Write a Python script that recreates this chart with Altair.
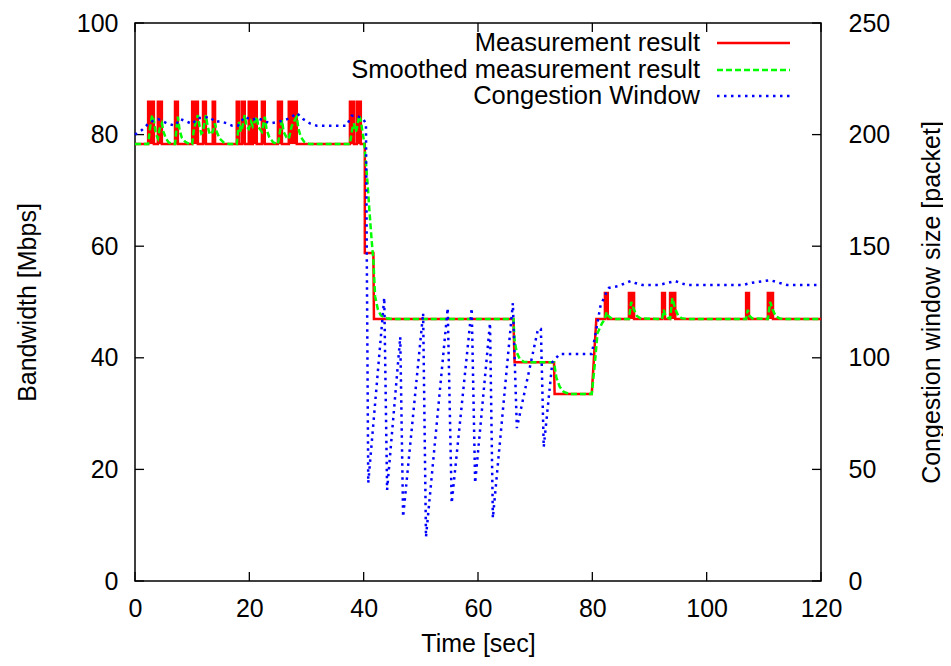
import altair as alt
import pandas as pd

FONT = "Liberation Sans"
W, H = 686, 558

# ---------------- data ----------------
x_ticks = [0, 20, 40, 60, 80, 100, 120]
bw_ticks = [0, 20, 40, 60, 80, 100]
cwnd_ticks = [0, 50, 100, 150, 200, 250]
legend_labels = ["Measurement result", "Smoothed measurement result", "Congestion Window"]

# Measurement result [Mbps]
red_t = [0,
         2.3, 2.3, 3.3, 3.3,
         4.0, 4.0, 4.7, 4.7,
         7.0, 7.0, 7.5, 7.5,
         10.0, 10.0, 11.0, 11.0,
         11.9, 11.9, 12.4, 12.4,
         13.6, 13.6, 14.0, 14.0,
         17.8, 17.8, 18.2, 18.2,
         18.7, 18.7, 19.2, 19.2,
         19.9, 19.9, 20.3, 20.3,
         20.6, 20.6, 21.3, 21.3,
         22.2, 22.2, 22.7, 22.7,
         25.0, 25.0, 25.7, 25.7,
         26.9, 26.9, 28.3, 28.3,
         37.6, 37.6, 38.3, 38.3,
         38.8, 38.8, 39.5, 39.5,
         40.2, 40.2, 41.7, 41.8, 66.2, 66.4, 73.3, 73.4, 79.9, 80.7,
         82.2, 82.2, 82.7, 82.7,
         86.4, 86.4, 87.3, 87.3,
         92.2, 92.2, 92.7, 92.7,
         93.6, 93.6, 94.5, 94.5,
         106.9, 106.9, 107.4, 107.4,
         110.7, 110.7, 111.6, 111.6,
         120]
red_v = [78.3,
         78.3, 85.9, 85.9, 78.3,
         78.3, 85.9, 85.9, 78.3,
         78.3, 85.9, 85.9, 78.3,
         78.3, 85.9, 85.9, 78.3,
         78.3, 85.9, 85.9, 78.3,
         78.3, 85.9, 85.9, 78.3,
         78.3, 85.9, 85.9, 78.3,
         78.3, 85.9, 85.9, 78.3,
         78.3, 85.9, 85.9, 78.3,
         78.3, 85.9, 85.9, 78.3,
         78.3, 85.9, 85.9, 78.3,
         78.3, 85.9, 85.9, 78.3,
         78.3, 85.9, 85.9, 78.3,
         78.3, 85.9, 85.9, 78.3,
         78.3, 85.9, 85.9, 78.3,
         78.3, 58.8, 58.8, 46.95, 46.95, 39.2, 39.2, 33.5, 33.5, 46.95,
         46.95, 51.6, 51.6, 46.95,
         46.95, 51.6, 51.6, 46.95,
         46.95, 51.6, 51.6, 46.95,
         46.95, 51.6, 51.6, 46.95,
         46.95, 51.6, 51.6, 46.95,
         46.95, 51.6, 51.6, 46.95,
         46.95]

# filled bursts of the measurement result
spike_start = [2.3, 4.0, 7.0, 10.0, 11.9, 13.6, 17.8, 18.7, 19.9, 20.6, 22.2, 25.0, 26.9, 37.6, 38.8,
               82.2, 86.4, 92.2, 93.6, 106.9, 110.7]
spike_end = [3.3, 4.7, 7.5, 11.0, 12.4, 14.0, 18.2, 19.2, 20.3, 21.3, 22.7, 25.7, 28.3, 38.3, 39.5,
             82.7, 87.3, 92.7, 94.5, 107.4, 111.6]
spike_low = [78.3, 78.3, 78.3, 78.3, 78.3, 78.3, 78.3, 78.3, 78.3, 78.3, 78.3, 78.3, 78.3, 78.3, 78.3,
             46.95, 46.95, 46.95, 46.95, 46.95, 46.95]
spike_high = [85.9, 85.9, 85.9, 85.9, 85.9, 85.9, 85.9, 85.9, 85.9, 85.9, 85.9, 85.9, 85.9, 85.9, 85.9,
              51.6, 51.6, 51.6, 51.6, 51.6, 51.6]

# Smoothed measurement result [Mbps]
green_t = [0,
           2.3, 2.6, 3.0, 3.3, 3.6, 3.9,
           4.0, 4.3, 4.7, 5.0, 5.4, 5.9, 6.5,
           7.0, 7.3, 7.5, 7.8, 8.2, 8.8, 9.5,
           10.0, 10.3, 10.7, 11.0, 11.3, 11.6,
           11.9, 12.2, 12.4, 12.7, 13.1,
           13.6, 14.0, 14.3, 14.8, 15.5, 16.5,
           17.8, 18.2, 18.5,
           18.7, 19.2, 19.5,
           19.9, 20.3,
           20.6, 21.3, 21.6,
           22.2, 22.7, 23.0, 23.5, 24.2, 24.9,
           25.0, 25.7, 26.0, 26.5,
           26.9, 27.4, 27.9, 28.3, 28.6, 29.0, 29.6, 30.5,
           37.6, 38.0, 38.3, 38.6,
           38.8, 39.2, 39.5, 39.8, 40.1,
           40.3, 40.6, 41.0, 41.4, 41.7, 42.0, 42.5, 43.0, 44.0, 45.0,
           66.2, 66.4, 66.8, 67.3, 68.0, 69.0,
           73.3, 73.7, 74.3, 75.0, 76.0,
           79.9, 80.4, 80.9, 81.7, 82.2, 82.5, 82.8, 83.3, 84.0,
           86.4, 86.8, 87.3, 87.8, 88.5,
           92.2, 92.5, 92.8, 93.3, 93.6, 94.0, 94.5, 95.0, 95.6, 96.5,
           106.9, 107.2, 107.5, 108.0,
           110.7, 111.1, 111.6, 112.1, 112.8, 113.5,
           120]
green_v = [78.3,
           78.3, 81.0, 83.5, 82.5, 80.5, 79.5,
           79.3, 81.0, 82.0, 80.5, 79.3, 78.6, 78.3,
           78.3, 81.5, 83.2, 80.8, 79.4, 78.7, 78.3,
           78.3, 81.0, 82.5, 83.5, 81.5, 80.2,
           80.5, 82.5, 83.5, 81.5, 80.0,
           80.5, 82.0, 80.5, 79.3, 78.6, 78.3,
           78.3, 82.3, 80.5,
           81.0, 83.5, 81.5,
           81.0, 82.3,
           81.5, 83.2, 81.3,
           80.5, 83.2, 81.0, 79.5, 78.6, 78.3,
           78.3, 82.6, 80.5, 79.5,
           79.2, 81.5, 82.5, 83.2, 81.0, 79.6, 78.7, 78.3,
           78.3, 81.0, 82.0, 80.5,
           81.0, 83.5, 82.5, 80.5, 78.5,
           76.0, 72.4, 66.5, 61.0, 57.5, 51.0, 48.6, 47.6, 47.1, 46.95,
           46.95, 43.0, 40.9, 39.8, 39.3, 39.2,
           39.2, 36.5, 34.8, 33.9, 33.5,
           33.5, 38.5, 44.4, 46.2, 46.95, 48.2, 47.5, 47.1, 46.95,
           46.95, 50.0, 48.6, 47.5, 47.05,
           46.95, 48.6, 47.5, 47.1, 47.0, 50.7, 48.8, 47.6, 47.1, 46.95,
           46.95, 48.6, 47.5, 47.05,
           46.95, 50.0, 48.5, 47.4, 47.05, 46.95,
           46.95]

# Congestion window [packet]
cwnd_t = [0, 1.2, 2.6, 4.0, 4.5, 5.6, 7.0, 7.9, 8.9, 10.0,
          11.0, 11.8, 13.1, 14.0, 14.9, 16.1, 17.0, 18.0, 19.2, 20.5,
          21.3, 22.4, 23.6, 24.8, 26.2, 27.1, 28.3, 29.4, 30.6, 31.8,
          37.0, 37.9, 38.8, 39.9, 40.4, 40.8, 43.6, 44.1, 46.4, 46.9,
          50.4, 50.9, 54.7, 55.4, 58.9, 59.5, 62.1, 62.6, 66.1, 66.8,
          70.5, 71.0, 71.5, 73.0, 74.3, 79.9, 80.5, 81.4, 82.3, 82.9,
          84.6, 86.7, 87.5, 88.8, 91.6, 94.5, 95.4, 96.6, 106.4, 107.6,
          111.1, 112.8, 114.1, 120]
cwnd_v = [200, 202, 205.6, 207, 206.5, 205, 204, 207, 206, 204.7,
          207.4, 207.4, 208, 205.6, 206, 205, 204, 204, 208, 206.5,
          207.4, 206.5, 205, 205.6, 206.5, 207.4, 209.7, 207, 205, 204,
          204, 208.4, 208.4, 207, 205, 43.9, 127, 40.8, 109.3, 28.7,
          120, 19.7, 122.3, 34.9, 122.3, 43.9, 115.6, 28.2, 124.5, 68.5,
          112.9, 112.9, 60, 98, 101.7, 101.7, 110, 123, 128.5, 131.3,
          132.2, 134.4, 133.5, 132.6, 132.6, 134.4, 133.5, 132.6, 132.6, 133.5,
          134.8, 133.5, 132.6, 132.6]

# ---------------- tables ----------------
red_df = pd.DataFrame({"t": red_t, "v": red_v, "i": list(range(len(red_t)))})
green_df = pd.DataFrame({"t": green_t, "v": green_v, "i": list(range(len(green_t)))})
cwnd_df = pd.DataFrame({"t": cwnd_t, "v": cwnd_v, "i": list(range(len(cwnd_t)))})
spike_df = pd.DataFrame({"s": spike_start, "e": spike_end, "lo": spike_low, "hi": spike_high})
xt_df = pd.DataFrame({"t": x_ticks})
yt_df = pd.DataFrame({"v": bw_ticks})

# ---------------- scales / axes ----------------
x_scale = alt.Scale(domain=[0, 120], nice=False, zero=False)
bw_scale = alt.Scale(domain=[0, 100], nice=False)
cw_scale = alt.Scale(domain=[0, 250], nice=False)

x_axis = alt.Axis(title="Time [sec]", values=x_ticks, format="d", labelPadding=15,
                  labelFlush=False, labelOverlap=False,
                  titleX=W / 2, titleY=62, titleBaseline="middle", titleAlign="center")
bw_axis = alt.Axis(title="Bandwidth [Mbps]", values=bw_ticks, format="d", labelPadding=17,
                   labelFlush=False, labelOverlap=False,
                   titleAngle=270, titleX=-108, titleY=H / 2, titleBaseline="middle",
                   titleAlign="center")
cw_axis = alt.Axis(title="Congestion window size [packet]", values=cwnd_ticks, format="d",
                   orient="right", labelPadding=27, labelFlush=False, labelOverlap=False,
                   titleAngle=270, titleX=110, titleY=H / 2, titleBaseline="middle",
                   titleAlign="center")


def X(field):
    return alt.X(field, type="quantitative", scale=x_scale, axis=x_axis)


def Y(field):
    return alt.Y(field, type="quantitative", scale=bw_scale, axis=bw_axis)


# ---------------- marks ----------------
spikes = alt.Chart(spike_df).mark_rect(color="#ff0000").encode(
    x=X("s"), x2="e", y=Y("lo"), y2="hi")

red = alt.Chart(red_df).mark_line(color="#ff0000", strokeWidth=2.5).encode(
    x=X("t"), y=Y("v"), order="i:Q")

green = alt.Chart(green_df).mark_line(color="#00ff00", strokeWidth=2.5, strokeDash=[6, 3]).encode(
    x=X("t"), y=Y("v"), order="i:Q")

tick_len = 9
ticks_bottom = alt.Chart(xt_df).mark_rule(color="black", strokeWidth=1.3).encode(
    x=X("t"), y=alt.value(H), y2=alt.value(H - tick_len))
ticks_top = alt.Chart(xt_df).mark_rule(color="black", strokeWidth=1.3).encode(
    x=X("t"), y=alt.value(0), y2=alt.value(tick_len))
ticks_left = alt.Chart(yt_df).mark_rule(color="black", strokeWidth=1.3).encode(
    y=Y("v"), x=alt.value(0), x2=alt.value(tick_len))
ticks_right = alt.Chart(yt_df).mark_rule(color="black", strokeWidth=1.3).encode(
    y=Y("v"), x=alt.value(W - tick_len), x2=alt.value(W))

# legend (gnuplot style, inside top right)
one = pd.DataFrame({"a": [0]})
leg_y = [20, 47, 73]
leg_styles = [
    dict(color="#ff0000", strokeWidth=2.5),
    dict(color="#00ff00", strokeWidth=2.5, strokeDash=[6, 3]),
    dict(color="#0000ff", strokeWidth=2.5, strokeDash=[2.5, 4.5]),
]
legend_layers = []
for lab, ly, sty in zip(legend_labels, leg_y, leg_styles):
    legend_layers.append(
        alt.Chart(one).mark_text(text=lab, align="right", baseline="middle", font=FONT,
                                 fontSize=25.5, color="black").encode(
            x=alt.value(565), y=alt.value(ly)))
    legend_layers.append(
        alt.Chart(one).mark_rule(**sty).encode(
            x=alt.value(582), x2=alt.value(655), y=alt.value(ly)))

bw_layer = alt.layer(spikes, red, green, ticks_bottom, ticks_top, ticks_left, ticks_right,
                     *legend_layers)

blue = alt.Chart(cwnd_df).mark_line(color="#0000ff", strokeWidth=2.5, strokeDash=[2.5, 4.5]).encode(
    x=X("t"), y=alt.Y("v", type="quantitative", scale=cw_scale, axis=cw_axis), order="i:Q")

chart = alt.layer(bw_layer, blue).resolve_scale(y="independent").properties(
    width=W, height=H,
    padding={"left": 127, "top": 15, "right": 122, "bottom": 77},
    autosize=alt.AutoSizeParams(type="none"),
    background="white",
).configure_view(stroke="black", strokeWidth=1.5).configure_axis(
    labelFont=FONT, titleFont=FONT, labelFontSize=25, titleFontSize=25,
    labelColor="black", titleColor="black", titleFontWeight="normal",
    grid=False, domain=False, ticks=False, tickSize=0,
)

chart.save("out.html", embed_options={"renderer": "svg", "actions": False})
